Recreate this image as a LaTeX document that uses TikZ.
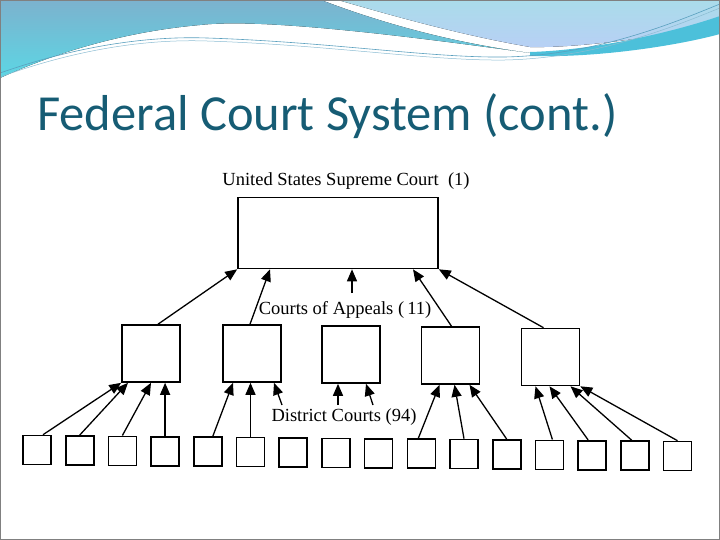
\documentclass[tikz,border=0pt]{standalone}
\usepackage{fontspec}
\setmainfont{Liberation Serif}
\newfontfamily\titlefont{Carlito}
\usepackage{xcolor}
\usetikzlibrary{arrows.meta,calc,positioning}

\definecolor{titleblue}{RGB}{22,92,116}
\definecolor{wavetop}{RGB}{124,178,206}
\definecolor{wavebot}{RGB}{92,214,228}
\definecolor{wavelight}{RGB}{170,220,234}
\definecolor{wavecyan}{RGB}{76,192,218}
\definecolor{waveline}{RGB}{90,160,190}

\begin{document}
\begin{tikzpicture}[x=1pt,y=-1pt,
  court/.style={draw,line width=1.6pt,inner sep=0pt},
  appeal/.style={court,minimum width=58pt,minimum height=57pt},
  district/.style={court,minimum width=28pt,minimum height=29pt},
  up/.style={-{Triangle[length=12pt,width=10pt]},line width=1.3pt},
  lbl/.style={font=\fontsize{18.5}{20}\selectfont,inner sep=0pt}]

  \useasboundingbox (0,0) rectangle (720,540);

  % slide background and waves
  \fill[top color=wavetop,bottom color=wavebot] (0,0) -- (321,0)
    .. controls (400,30) and (470,45) .. (530,53)
    .. controls (400,35) and (260,18) .. (200,25)
    .. controls (120,32) and (50,55) .. (0,78) -- cycle;
  \fill[top color=wavelight,bottom color=wavelight!80!blue!60!white] (338,0) -- (720,0) -- (720,22)
    .. controls (650,40) and (570,48) .. (530,47)
    .. controls (460,35) and (390,15) .. (338,0) -- cycle;
  \fill[wavecyan] (530,52) .. controls (600,50) and (680,30) .. (720,16)
    -- (720,34) .. controls (680,45) and (600,58) .. (530,56) -- cycle;
  \draw[waveline,line width=0.6pt] (0,73) .. controls (80,45) and (150,36) .. (207,38)
    .. controls (330,42) and (430,58) .. (505,57) .. controls (600,55) and (680,20) .. (720,4);
  \draw[waveline!70,line width=0.5pt] (0,77) .. controls (80,48) and (150,39) .. (207,41)
    .. controls (330,45) and (430,61) .. (505,60) .. controls (600,58) and (680,24) .. (720,8);
  \draw[gray,line width=1pt] (0.5,0.5) rectangle (719.5,539.5);

  \node[anchor=base west,inner sep=0pt,text=titleblue,
    font=\titlefont\fontsize{50.5}{54}\selectfont] (title) at (37,131) {Federal Court System (cont.)};

  % courts
  \node[court,minimum width=200pt,minimum height=71pt] (sc) at (338,233) {};
  \foreach \i/\x/\y in {1/151/353.5,2/252/353.5,3/351/354.5,4/450.5/355.5,5/550.5/357}
    \node[appeal] (a\i) at (\x,\y) {};
  \foreach \i in {1,...,16}
    \node[district] (d\i) at ({37+(\i-1)*42.7},{450+(\i-1)*0.4}) {};

  \node[lbl] (sclbl) at (346,181) {United States Supreme Court~~(1)};
  \node[lbl] (calbl) at (345,310) {Courts of Appeals (\,11)};
  \node[lbl] (dclbl) at (344,417) {District Courts (94)};

  \coordinate (f1) at (282,405);
  \coordinate (f2) at (338,405);
  \coordinate (f3) at (373,405);
  \coordinate (f4) at (352,293);

  % district -> appeals
  \draw[up] ([xshift=6pt]d1.north) -- (a1.south west);
  \draw[up] (d2.north) -- ([xshift=-23pt]a1.south);
  \draw[up] (d3.north) -- (a1.south);
  \draw[up] (d4.north) -- (d4.north |- a1.south);
  \draw[up] ([xshift=5pt]d5.north) -- ([xshift=-19pt]a2.south);
  \draw[up] (d6.north) -- (d6.north |- a2.south);
  \draw[up] (f1) -- ([xshift=22pt]a2.south);
  \draw[up] (f2) -- (f2 |- a3.south);
  \draw[up] (f3) -- ([xshift=15pt]a3.south);
  \draw[up] ([xshift=-3pt]d10.north) -- ([xshift=-11pt]a4.south);
  \draw[up] (d11.north) -- ([xshift=4pt]a4.south);
  \draw[up] (d12.north) -- ([xshift=19pt]a4.south);
  \draw[up] ([xshift=3pt]d13.north) -- ([xshift=-15pt]a5.south);
  \draw[up] ([xshift=-4pt]d14.north) -- ([xshift=-1pt]a5.south);
  \draw[up] ([xshift=-3pt]d15.north) -- ([xshift=20pt]a5.south);
  \draw[up] (d16.north) -- (a5.south east);

  % appeals -> supreme
  \draw[up] ([xshift=7pt]a1.north) -- (sc.south west);
  \draw[up] ([xshift=-2pt]a2.north) -- ([xshift=-68pt]sc.south);
  \draw[up] (f4) -- (f4 |- sc.south);
  \draw[up] ([xshift=1pt]a4.north) -- ([xshift=75pt]sc.south);
  \draw[up] ([xshift=-7pt]a5.north) -- (sc.south east);

\end{tikzpicture}
\end{document}
